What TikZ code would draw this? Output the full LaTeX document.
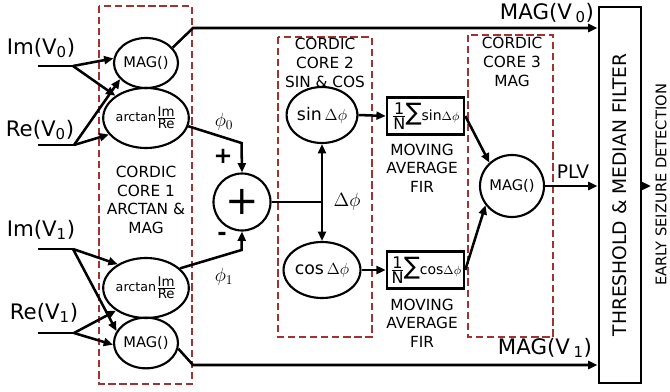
\documentclass[tikz,border=0pt]{standalone}
\usepackage{fontspec}
\setmainfont{DejaVu Sans}
\usetikzlibrary{shapes.geometric,arrows.meta}
\definecolor{corered}{RGB}{160,50,50}
\begin{document}
\begin{tikzpicture}[x=0.75pt,y=-0.75pt,
  conn/.style={line width=1.9pt},
  arr/.style={conn,-{Triangle[length=7pt,width=6pt]}},
  darr/.style={conn,{Triangle[length=7pt,width=6pt]}-{Triangle[length=7pt,width=6pt]}},
  oval/.style={ellipse,draw,line width=1.6pt,inner sep=0pt},
  dashbox/.style={draw=corered,line width=2.1pt,dash pattern=on 5.5pt off 2.8pt},
  lbl/.style={font=\fontsize{11.5}{14}\selectfont,align=center},
  inlbl/.style={font=\fontsize{16}{18}\selectfont},
  firbox/.style={draw,line width=1.9pt,minimum width=57.75pt,minimum height=27.75pt,inner sep=0pt,font=\fontsize{10.5}{12}\selectfont}]
\path[use as bounding box] (0,0) rectangle (670,392);
% dashed cores
\draw[dashbox] (99,6) rectangle (192,384);
\draw[dashbox] (278,37) rectangle (372,337);
\draw[dashbox] (468,35) rectangle (553,337);
\node[lbl] (t1) at (146,200) {CORDIC\\CORE 1\\ARCTAN \&\\MAG};
\node[lbl] (t2) at (325,63) {CORDIC\\CORE 2\\SIN \& COS};
\node[lbl] (t3) at (512,62) {CORDIC\\CORE 3\\MAG};
% core 1 nodes
\node[oval,minimum width=48pt,minimum height=37.5pt,font=\fontsize{11}{12}\selectfont] (mag0) at (146,63) {MAG()};
\node[oval,minimum width=54pt,minimum height=45pt,font=\fontsize{9.5}{10}\selectfont] (atan0) at (146,118) {arctan$\frac{\hbox{\fontsize{10}{10}\selectfont Im}}{\hbox{\fontsize{10}{10}\selectfont Re}}$};
\node[oval,minimum width=54pt,minimum height=45pt,font=\fontsize{9.5}{10}\selectfont] (atan1) at (146,288) {arctan$\frac{\hbox{\fontsize{10}{10}\selectfont Im}}{\hbox{\fontsize{10}{10}\selectfont Re}}$};
\node[oval,minimum width=48pt,minimum height=38pt,font=\fontsize{11}{12}\selectfont] (mag1) at (146,343) {MAG()};
% inputs
\node[inlbl] (lim0) at (41,48) {Im(V\textsubscript{0})};
\node[inlbl] (lre0) at (40,130) {Re(V\textsubscript{0})};
\node[inlbl] (lim1) at (41,230) {Im(V\textsubscript{1})};
\node[inlbl] (lre1) at (44,313) {Re(V\textsubscript{1})};
\coordinate (im0) at (38,66); \coordinate (jim0) at (73,66);
\coordinate (re0) at (38,145); \coordinate (jre0) at (74,145);
\coordinate (im1) at (38,249); \coordinate (jim1) at (73,249);
\coordinate (re1) at (38,333); \coordinate (jre1) at (74,333);
\draw[conn] (im0) -- (jim0);
\draw[conn] (re0) -- (jre0);
\draw[conn] (im1) -- (jim1);
\draw[conn] (re1) -- (jre1);
\draw[arr] (jim0) -- (mag0.172);
\draw[arr] (jim0) -- (atan0.144);
\draw[arr] (jre0) -- (mag0.212);
\draw[arr] (jre0) -- (atan0.204);
\draw[arr] (jim1) -- (atan1.140);
\draw[arr] (jim1) -- (mag1.158);
\draw[arr] (jre1) -- (atan1.217);
\draw[arr] (jre1) -- (mag1.183);
% summation
\node[circle,draw,line width=1.6pt,minimum size=42.75pt,inner sep=0pt] (sum) at (242,202) {};
\node[font=\fontsize{30}{30}\selectfont] (plussign) at (sum.center) {+};
\coordinate (c0) at (241.5,143);
\coordinate (c1) at (241.5,250);
\draw[arr] (atan0.349) -- (c0) -- (sum.north);
\draw[arr] (atan1.30) -- (c1) -- (sum.south);
\node[font=\fontsize{14}{14}\selectfont] (phi0) at (224,122) {$\phi_0$};
\node[font=\fontsize{14}{14}\selectfont] (phi1) at (224,277) {$\phi_1$};
\node[font=\fontsize{17}{17}\selectfont\bfseries] (plus) at (223,156) {+};
\node[font=\fontsize{17}{17}\selectfont\bfseries] (minus) at (222,236) {-};
% core 2
\node[oval,minimum width=52.5pt,minimum height=42pt,font=\fontsize{13}{14}\selectfont] (sin) at (322,115) {sin\,$\Delta\phi$};
\node[oval,minimum width=52.5pt,minimum height=42pt,font=\fontsize{13}{14}\selectfont] (cos) at (322,270) {cos\,$\Delta\phi$};
\coordinate (jd) at (sin.south |- sum.east);
\draw[conn] (sum.east) -- (jd);
\draw[darr] (sin.south) -- (cos.north);
\node[font=\fontsize{14}{14}\selectfont] (dphi) at (347,202) {$\Delta\phi$};
% FIR
\node[firbox] (fir1) at (425.5,116) {$\frac{\hbox{\fontsize{12}{12}\selectfont 1}}{\hbox{\fontsize{12}{12}\selectfont N}}$\hspace{-1pt}{\fontsize{18}{18}\selectfont ∑}sin{\fontsize{9.5}{9.5}\selectfont$\Delta\phi$}};
\node[firbox] (fir2) at (425.5,270) {$\frac{\hbox{\fontsize{12}{12}\selectfont 1}}{\hbox{\fontsize{12}{12}\selectfont N}}$\hspace{-1pt}{\fontsize{18}{18}\selectfont ∑}cos{\fontsize{9.5}{9.5}\selectfont$\Delta\phi$}};
\draw[arr] (sin.east) -- (fir1.west);
\draw[arr] (cos.east) -- (fir2.west);
\node[lbl] (m1) at (422,168) {MOVING\\AVERAGE\\FIR};
\node[lbl] (m2) at (422,323) {MOVING\\AVERAGE\\FIR};
% core 3
\node[oval,minimum width=48pt,minimum height=46.5pt,font=\fontsize{11}{12}\selectfont] (mag3) at (512,186) {MAG()};
\draw[arr] (fir1.east) -- (mag3.134);
\draw[arr] (fir2.east) -- (mag3.216);
% threshold
\node[draw,line width=2.2pt,minimum width=31.5pt,minimum height=282pt,inner sep=0pt] (thr) at (620,195) {};
\node[rotate=90,font=\fontsize{14}{16}\selectfont] (thrt) at (620,195) {THRESHOLD \& MEDIAN FILTER};
\draw[arr] (mag3.east) -- (thr.west |- mag3.east);
\node[font=\fontsize{14}{16}\selectfont] (plv) at (573,172) {PLV};
\coordinate (m0c) at (193,28);
\coordinate (m1c) at (193,365);
\draw[arr] (mag0.30) -- (m0c) -- (m0c -| thr.west);
\draw[arr] (mag1.350) -- (m1c) -- (m1c -| thr.west);
\node[inlbl] (lm0) at (547,13) {MAG(V\,\textsubscript{0})};
\node[inlbl] (lm1) at (545,348) {MAG(V\,\textsubscript{1})};
\coordinate (outc) at (651,186);
\draw[arr] (thr.east |- mag3.east) -- (outc);
\node[rotate=90,font=\fontsize{11}{13}\selectfont] (early) at (661,185) {EARLY SEIZURE DETECTION};
\end{tikzpicture}
\end{document}
